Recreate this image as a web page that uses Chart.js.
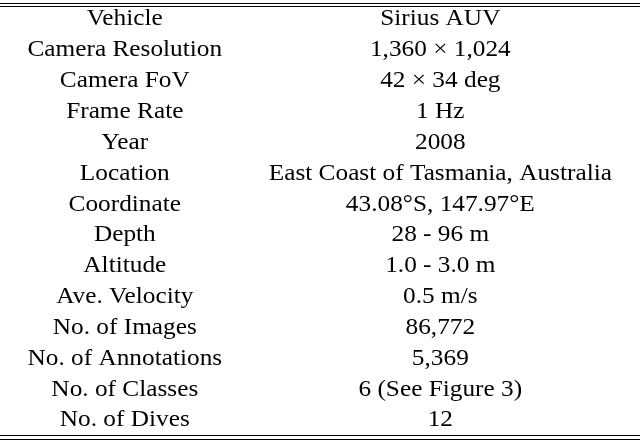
<!DOCTYPE html>
<html>
<head>
<meta charset="utf-8">
<script src="https://cdn.jsdelivr.net/npm/chart.js@4"></script>
<style>
  html, body { margin: 0; padding: 0; background: #fff; }
  #wrap { width: 640px; height: 442px; }
</style>
</head>
<body>
<div id="wrap"><canvas id="tableChart"></canvas></div>
<script>
const fieldNames = [
  "Vehicle", "Camera Resolution", "Camera FoV", "Frame Rate", "Year",
  "Location", "Coordinate", "Depth", "Altitude", "Ave. Velocity",
  "No. of Images", "No. of Annotations", "No. of Classes", "No. of Dives",
];
const fieldValues = [
  "Sirius AUV", "1,360 \u00d7 1,024", "42 \u00d7 34 deg", "1 Hz", "2008",
  "East Coast of Tasmania, Australia", "43.08\u00b0S, 147.97\u00b0E", "28 - 96 m",
  "1.0 - 3.0 m", "0.5 m/s", "86,772", "5,369", "6 (See Figure 3)", "12",
];
// column centres in x-scale units (0..1)
const columnCentres = [0.195, 0.688];
// rule positions in row units
const topRules = [-0.53, -0.435];
const bottomRules = [13.475, 13.605];

const tablePlugin = {
  id: "tableText",
  afterDraw(chart) {
    const ctx = chart.ctx;
    const xs = chart.scales.x;
    const ys = chart.scales.y;
    ctx.save();
    ctx.fillStyle = "#000";
    ctx.strokeStyle = "#000";
    ctx.lineWidth = 1;
    [...topRules, ...bottomRules].forEach((v) => {
      const y = Math.round(ys.getPixelForValue(v)) + 0.5;
      ctx.beginPath();
      ctx.moveTo(xs.getPixelForValue(0), y);
      ctx.lineTo(xs.getPixelForValue(1), y);
      ctx.stroke();
    });
    ctx.font = "23px 'Liberation Serif', 'DejaVu Serif', serif";
    ctx.textAlign = "center";
    ctx.textBaseline = "middle";
    const stretch = 1.1; // computer modern is wider than liberation serif
    const drawText = (text, x, y) => {
      ctx.save();
      ctx.translate(x, y);
      ctx.scale(stretch, 1);
      ctx.fillText(text, 0, 0);
      ctx.restore();
    };
    fieldNames.forEach((name, i) => {
      const y = ys.getPixelForValue(i);
      drawText(name, xs.getPixelForValue(columnCentres[0]), y);
      drawText(fieldValues[i], xs.getPixelForValue(columnCentres[1]), y);
    });
    ctx.restore();
  },
};

new Chart(document.getElementById("tableChart"), {
  type: "scatter",
  data: {
    datasets: [
      {
        data: fieldNames.map((_, i) => ({ x: columnCentres[0], y: i })),
        pointRadius: 0,
      },
    ],
  },
  options: {
    responsive: true,
    maintainAspectRatio: false,
    animation: false,
    layout: { padding: 0 },
    plugins: { legend: { display: false }, tooltip: { enabled: false } },
    scales: {
      x: { type: "linear", min: 0, max: 1, display: false },
      y: { type: "linear", min: -0.63, max: 13.7, reverse: true, display: false },
    },
  },
  plugins: [tablePlugin],
});
</script>
</body>
</html>
